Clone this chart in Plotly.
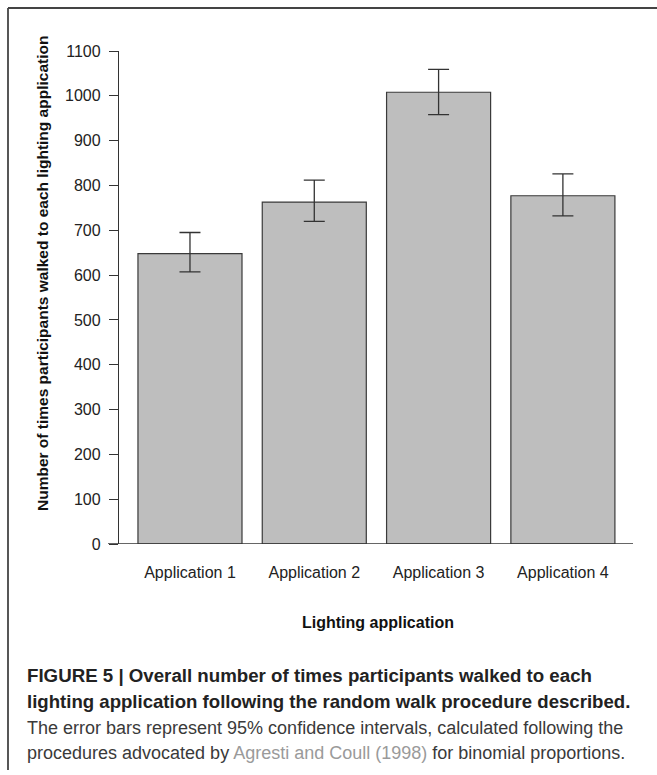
import plotly.graph_objects as go

categories = ["Application 1", "Application 2", "Application 3", "Application 4"]
counts = [648, 763, 1008, 777]
ci_upper = [695, 812, 1059, 826]
ci_lower = [607, 720, 958, 732]
y_ticks = [0, 100, 200, 300, 400, 500, 600, 700, 800, 900, 1000, 1100]

err_plus = [u - c for u, c in zip(ci_upper, counts)]
err_minus = [c - l for c, l in zip(counts, ci_lower)]

W, H = 657, 775
L, R, T, B = 119, 24, 51, 231
pw = W - L - R
ph = H - T - B

FONT = "Liberation Sans, Arial, Helvetica, sans-serif"

fig = go.Figure()
fig.add_trace(go.Bar(
    x=categories, y=counts,
    marker=dict(color="#bebebe", line=dict(color="#3a3a3a", width=1.2)),
    error_y=dict(type="data", symmetric=False, array=err_plus, arrayminus=err_minus,
                 color="#333333", thickness=1.3, width=10.5),
    hoverinfo="skip",
))

def px_x(p):
    return (p - L) / pw

def px_y(p):
    return 1 - (p - T) / ph

shapes = [
    dict(type="line", xref="paper", yref="y", x0=px_x(108), x1=1, y0=0, y1=0,
         line=dict(color="#333333", width=1.3)),
    dict(type="line", xref="paper", yref="paper", x0=px_x(8), x1=px_x(8),
         y0=px_y(8), y1=px_y(770), line=dict(color="#444444", width=1.8)),
    dict(type="line", xref="paper", yref="paper", x0=px_x(8), x1=px_x(660),
         y0=px_y(8), y1=px_y(8), line=dict(color="#444444", width=2)),
]

annotations = [
    dict(text="<b>Number of times participants walked to each lighting application</b>",
         xref="paper", yref="paper", x=px_x(42), y=px_y(274), textangle=-90,
         showarrow=False, font=dict(family=FONT, size=15.5, color="#111111"),
         xanchor="center", yanchor="middle"),
    dict(text="<b>Lighting application</b>", xref="paper", yref="paper",
         x=px_x(378), y=px_y(622), showarrow=False,
         font=dict(family=FONT, size=16, color="#111111"),
         xanchor="center", yanchor="middle"),
]

cap_lines = [
    ("<b>FIGURE 5 | Overall number of times participants walked to each</b>", 675, "#222222", 18.7),
    ("<b>lighting application following the random walk procedure described.</b>", 701, "#222222", 18.6),
    ("The error bars represent 95% confidence intervals, calculated following the", 728, "#3a3a3a", 18),
    ("procedures advocated by <span style='color:#9a9a9a'>Agresti and Coull (1998)</span> for binomial proportions.", 753, "#3a3a3a", 18),
]
for txt, yy, col, sz in cap_lines:
    annotations.append(dict(text=txt, xref="paper", yref="paper", x=px_x(25), y=px_y(yy),
                            showarrow=False, xanchor="left", yanchor="middle",
                            font=dict(family=FONT, size=sz, color=col)))

fig.update_layout(
    width=W, height=H,
    margin=dict(l=L, r=R, t=T, b=B, pad=0),
    paper_bgcolor="white", plot_bgcolor="white",
    showlegend=False,
    bargap=0.163,
    shapes=shapes,
    annotations=annotations,
    font=dict(family=FONT, color="#222222"),
    xaxis=dict(type="category", range=[-0.571, 3.564], showline=False, showgrid=False,
               zeroline=False, ticks="", tickfont=dict(family=FONT, size=16, color="#222222"),
               ticklabelstandoff=17),
    yaxis=dict(range=[0, 1100], tickvals=y_ticks, showline=True, linecolor="#333333",
               linewidth=1.3, ticks="outside", ticklen=9, tickcolor="#333333", tickwidth=1.3,
               showgrid=False, zeroline=False,
               tickfont=dict(family=FONT, size=16, color="#222222"),
               ticklabelstandoff=5),
)

fig.write_html("out.html", config={"displayModeBar": False},
               post_script="document.body.style.margin='0px';")
